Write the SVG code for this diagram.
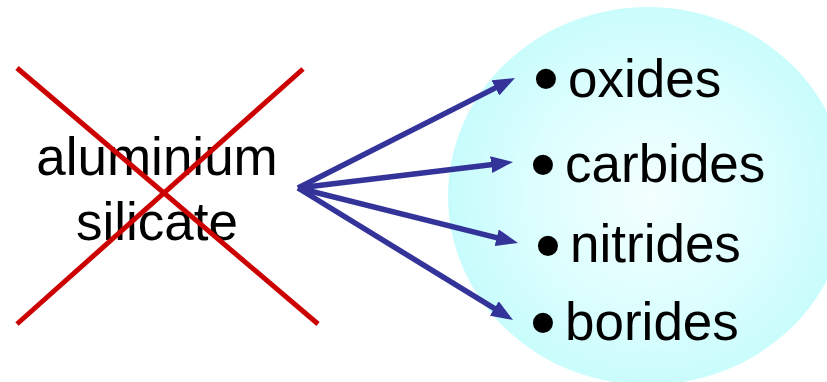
<svg xmlns="http://www.w3.org/2000/svg" width="827" height="382" viewBox="0 0 827 382">
<defs>
<radialGradient id="glow" cx="650" cy="195" r="200" gradientUnits="userSpaceOnUse">
<stop offset="0" stop-color="#F4FFFF"/>
<stop offset="0.6" stop-color="#DCFEFE"/>
<stop offset="1" stop-color="#C8FCFC"/>
</radialGradient>
<marker id="ah" viewBox="0 0 22 17" markerWidth="22" markerHeight="17" refX="10" refY="8.5" orient="auto" markerUnits="userSpaceOnUse">
<path d="M0,0 L22,8.5 L0,17 Z" fill="#333399"/>
</marker>
<style>
.lbl{font-family:"Liberation Sans",Arial,sans-serif;font-size:53px;fill:#000}
.bul{font-family:"Liberation Sans",Arial,sans-serif;font-size:74px;fill:#000;text-anchor:middle}
.arr{stroke:#333399;stroke-width:5.5;fill:none;marker-end:url(#ah)}
.cross{stroke:#CC0000;stroke-width:5;fill:none}
</style>
</defs>
<rect width="827" height="382" fill="#fff"/>
<g id="circle">
<ellipse cx="648" cy="196" rx="200" ry="189" fill="url(#glow)"/>
</g>
<g id="source">
<text class="lbl" x="157" y="175" text-anchor="middle">aluminium</text>
<text class="lbl" x="157" y="240" text-anchor="middle">silicate</text>
<line class="cross" x1="17" y1="68" x2="318" y2="324"/>
<line class="cross" x1="303" y1="69" x2="17" y2="324"/>
</g>
<g id="connectors">
<line class="arr" x1="298" y1="188" x2="504.3" y2="83.4"/>
<line class="arr" x1="298" y1="188" x2="501.1" y2="163.4"/>
<line class="arr" x1="298" y1="188" x2="506.4" y2="240.1"/>
<line class="arr" x1="298" y1="188" x2="502.8" y2="313.7"/>
</g>
<g id="oxides">
<text class="bul" x="546" y="104">•</text>
<text class="lbl" x="568" y="97">oxides</text>
</g>
<g id="carbides">
<text class="bul" x="543" y="190">•</text>
<text class="lbl" x="565" y="182">carbides</text>
</g>
<g id="nitrides">
<text class="bul" x="548" y="271">•</text>
<text class="lbl" x="570" y="262">nitrides</text>
</g>
<g id="borides">
<text class="bul" x="543" y="348">•</text>
<text class="lbl" x="565" y="340">borides</text>
</g>
</svg>
